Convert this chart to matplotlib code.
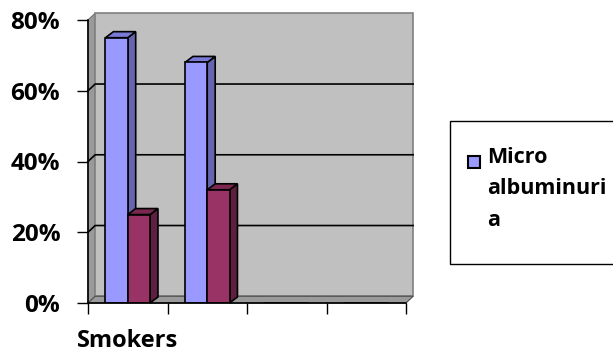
import matplotlib
matplotlib.use("Agg")
import matplotlib.pyplot as plt
from matplotlib.patches import Polygon, Rectangle
from matplotlib.ticker import FuncFormatter
import numpy as np

# data
categories = ["Smokers", "", "", ""]
micro = [75, 68, 0, 0]        # %
normo = [25, 32, 0, 0]        # %
legend_label = "Micro\nalbuminuri\na"

blue = "#9999FF"
blue_side = "#6666B0"
blue_top = "#7A7AD6"
red = "#993366"
red_side = "#5E1F40"
red_top = "#7A284F"

plt.rcParams["font.family"] = ["Open Sans", "DejaVu Sans"]
plt.rcParams["font.weight"] = "bold"

fig = plt.figure(figsize=(6.13, 3.56), dpi=100)
ax = fig.add_axes([88 / 613, 53 / 356, 318 / 613, 283 / 356])

n = len(categories)
ymax = 80
# depth of the fake 3d in data units
dxw, dyw = 0.09, 1.9     # walls
dxb, dyb = 0.10, 1.7     # bars
w = 0.28

# walls and floor
ax.add_patch(Polygon([(0, 0), (dxw, dyw), (dxw, ymax + dyw), (0, ymax)],
                     closed=True, fc="#9A9A9A", ec="#707070", lw=0.8, clip_on=False, zorder=1))
ax.add_patch(Rectangle((dxw, dyw), n, ymax, fc="#C0C0C0", ec="#808080", lw=1.2,
                       clip_on=False, zorder=1))
ax.add_patch(Polygon([(0, 0), (n, 0), (n + dxw, dyw), (dxw, dyw)],
                     closed=True, fc="#9A9A9A", ec="#505050", lw=0.8, clip_on=False, zorder=1))
for g in range(20, ymax, 20):
    ax.plot([0, dxw, n + dxw], [g, g + dyw, g + dyw], color="black", lw=1.2,
            clip_on=False, zorder=2)

x = np.arange(n) + 0.5
b1 = ax.bar(x - w, micro, w, align="edge", color=blue, ec="black", lw=1.2, zorder=3)
b2 = ax.bar(x, normo, w, align="edge", color=red, ec="black", lw=1.2, zorder=3)


def add_depth(bars, side_c, top_c, z):
    for p in bars.patches:
        h = p.get_height()
        if h <= 0:
            continue
        x0, x1 = p.get_x(), p.get_x() + p.get_width()
        ax.add_patch(Polygon([(x1, 0), (x1 + dxb, dyb), (x1 + dxb, h + dyb), (x1, h)],
                             closed=True, fc=side_c, ec="black", lw=1.2, zorder=z, clip_on=False))
        ax.add_patch(Polygon([(x0, h), (x0 + dxb, h + dyb), (x1 + dxb, h + dyb), (x1, h)],
                             closed=True, fc=top_c, ec="black", lw=1.2, zorder=z, clip_on=False))
        p.set_zorder(z + 0.1)


add_depth(b1, blue_side, blue_top, 3)
add_depth(b2, red_side, red_top, 4)

ax.set_xlim(0, n)
ax.set_ylim(0, ymax)
ax.set_facecolor("none")
for s in ["top", "right"]:
    ax.spines[s].set_visible(False)
for s in ["left", "bottom"]:
    ax.spines[s].set_linewidth(1.2)
    ax.spines[s].set_zorder(5)

ax.set_yticks(range(0, ymax + 1, 20))
ax.yaxis.set_major_formatter(FuncFormatter(lambda v, _: f"{v:.0f}%"))
ax.tick_params(axis="y", length=8, width=1.0, labelsize=17.5, pad=12)
ax.set_xticks(range(n + 1))
ax.set_xticklabels([])
ax.set_xticks(x, minor=True)
ax.set_xticklabels(categories, minor=True)
ax.tick_params(axis="x", which="major", length=8, width=1.0)
ax.tick_params(axis="x", which="minor", length=0, labelsize=17, pad=19)

# legend box
fig.patches.append(Rectangle((450 / 613, (356 - 264) / 356), 170 / 613, 143 / 356,
                             transform=fig.transFigure, fc="white", ec="black", lw=1.0))
fig.patches.append(Rectangle((468 / 613, (356 - 168) / 356), 12 / 613, 12 / 356,
                             transform=fig.transFigure, fc=blue, ec="black", lw=1.5))
fig.text(487 / 613, (356 - 147) / 356, legend_label, fontsize=15.5, fontweight="bold",
         va="top", ha="left", linespacing=1.65)

fig.savefig("out.png", dpi=100)
